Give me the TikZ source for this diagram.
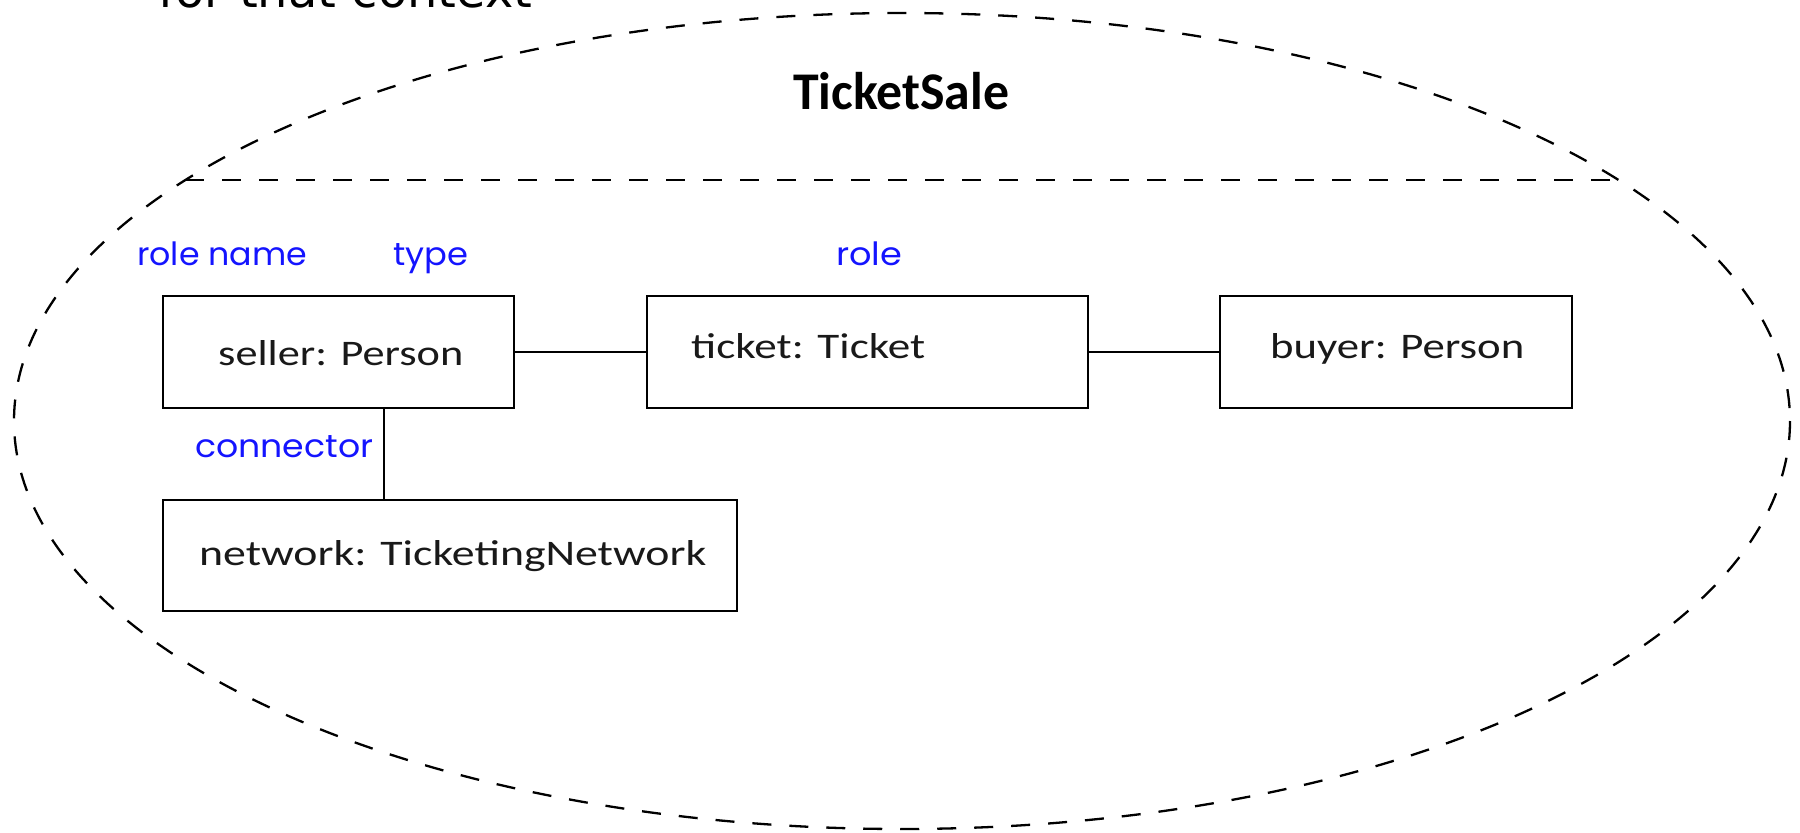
\documentclass[tikz,border=0pt]{standalone}
\usepackage{fontspec}
\usepackage{graphicx}
\setmainfont{Carlito}
\newfontfamily\lblfont{Poppins}
\newfontfamily\topfont{DejaVu Sans}
\definecolor{lblblue}{RGB}{20,20,255}
\definecolor{txtdark}{RGB}{25,25,25}
\newcommand{\fitw}[2]{\resizebox{#1}{\height}{#2}}
\begin{document}
\begin{tikzpicture}[x=1pt,y=-1pt,
  box/.style={draw, line width=2.4pt, inner sep=0pt, outer sep=0pt, minimum height=112pt},
  boxtext/.style={anchor=base west, inner sep=0pt, text=txtdark, font=\fontsize{36}{40}\selectfont},
  lbl/.style={anchor=base west, inner sep=0pt, text=lblblue, font=\lblfont\fontsize{32}{36}\selectfont},
  conn/.style={draw, line width=2pt},
  ctx/.style={draw, line width=2.3pt, dash pattern=on 19pt off 18pt}
]
\useasboundingbox (0,0) rectangle (1800,833);
\fill[white] (0,0) rectangle (1800,833);

% heading cut at top
\node[anchor=base west, inner sep=0pt, font=\topfont\fontsize{48}{52}\selectfont] (ctxtext) at (158,7) {\fitw{374pt}{for that context}};

% context ellipse and divider
\coordinate (ec) at (902,421);
\draw[ctx] (ec) ellipse [x radius=888, y radius=408];
\coordinate (chL) at (185.4,180);
\coordinate (chR) at (1618.6,180);
\draw[ctx] (chL) -- (chR);
\node[anchor=base west, inner sep=0pt, font=\bfseries\fontsize{53}{56}\selectfont] (title) at (793,109) {\fitw{216pt}{TicketSale}};

% parts
\node[box, minimum width=351pt] (seller) at (338.5,352) {};
\node[box, minimum width=441pt] (ticket) at (867.5,352) {};
\node[box, minimum width=352pt] (buyer) at (1396,352) {};
\node[box, minimum width=574pt, minimum height=111pt] (network) at (450,555.5) {};

\node[boxtext] (tseller) at (218,365) {\fitw{245pt}{seller: Person}};
\node[boxtext] (tticket) at (691,358) {\fitw{234pt}{ticket: Ticket}};
\node[boxtext] (tbuyer) at (1270,358) {\fitw{254pt}{buyer: Person}};
\node[boxtext] (tnetwork) at (199,565) {\fitw{507pt}{network: TicketingNetwork}};

% connectors
\draw[conn] (seller.east) -- (ticket.west);
\draw[conn] (ticket.east) -- (buyer.west);
\coordinate (cx) at (384,0);
\draw[conn] (seller.south -| cx) -- (network.north -| cx);

% blue annotations
\node[lbl] (lrolename) at (137,265) {\fitw{170pt}{role name}};
\node[lbl] (ltype) at (393,265) {\fitw{75pt}{type}};
\node[lbl] (lrole) at (836,265) {\fitw{66pt}{role}};
\node[lbl] (lconn) at (195,457) {\fitw{178pt}{connector}};
\end{tikzpicture}
\end{document}
